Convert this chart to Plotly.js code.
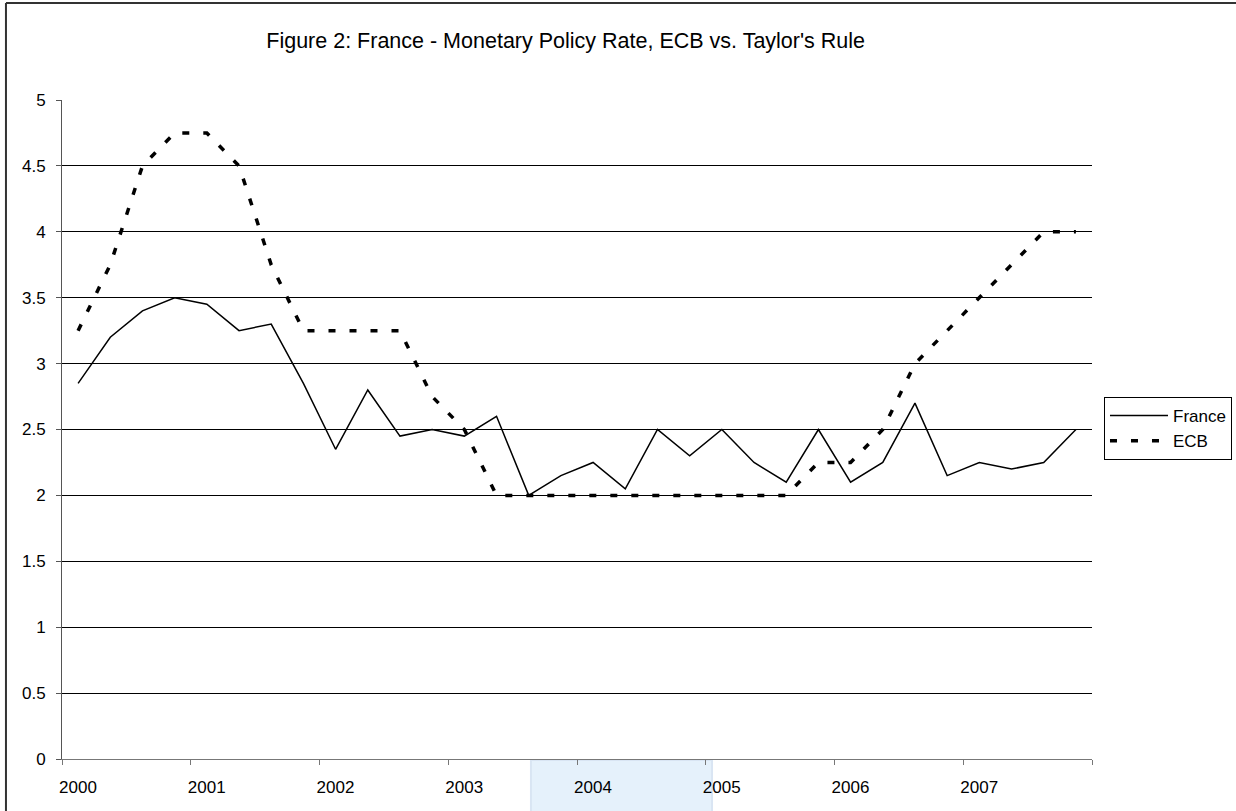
<!DOCTYPE html>
<html>
<head>
<meta charset="utf-8">
<script src="https://cdn.plot.ly/plotly-3.0.1.min.js"></script>
<style>
  html, body { margin: 0; padding: 0; background: #fff; }
  #chart { width: 1236px; height: 811px; }
</style>
</head>
<body>
<div id="chart"></div>
<script>
// quarterly values, 2000Q1 .. 2007Q4
const years = ['2000', '2001', '2002', '2003', '2004', '2005', '2006', '2007'];
const perYear = 4;

const france = [2.85, 3.2, 3.4, 3.5, 3.45, 3.25, 3.3, 2.85, 2.35, 2.8,
                2.45, 2.5, 2.45, 2.6, 2.0, 2.15, 2.25, 2.05, 2.5, 2.3,
                2.5, 2.25, 2.1, 2.5, 2.1, 2.25, 2.7, 2.15, 2.25, 2.2,
                2.25, 2.5];

const ecb = [3.25, 3.75, 4.5, 4.75, 4.75, 4.5, 3.75, 3.25, 3.25, 3.25,
             3.25, 2.75, 2.5, 2.0, 2.0, 2.0, 2.0, 2.0, 2.0, 2.0,
             2.0, 2.0, 2.0, 2.25, 2.25, 2.5, 3.0, 3.25, 3.5, 3.75,
             4.0, 4.0];

const yTicks = [0, 0.5, 1, 1.5, 2, 2.5, 3, 3.5, 4, 4.5, 5];

let idx = france.map((v, i) => i);

// ticks sit between the years, labels on the first quarter of each year
let tickPos = [];
let tickText = [];
for (let k = 0; k <= years.length; k++) {
    tickPos.push(k * perYear - 0.5);
    tickText.push(k < years.length ? years[k] : '');
}

const font = '"Liberation Sans", Arial, sans-serif';

let traces = [
    {
        name: 'France',
        x: idx,
        y: france,
        mode: 'lines',
        type: 'scatter',
        line: {color: '#000', width: 1.5}
    },
    {
        name: 'ECB',
        x: idx,
        y: ecb,
        mode: 'lines',
        type: 'scatter',
        line: {color: '#000', width: 3.5, dash: '7px,14px'}
    }
];

let layout = {
    width: 1236,
    height: 811,
    margin: {l: 62, r: 144, t: 100, b: 52},
    paper_bgcolor: '#fff',
    plot_bgcolor: '#fff',
    font: {family: font, size: 17, color: '#000'},
    title: {
        text: "Figure 2: France - Monetary Policy Rate, ECB vs. Taylor's Rule",
        font: {family: font, size: 21.5, color: '#000'},
        x: 0.489,
        xref: 'paper',
        xanchor: 'center',
        y: 0.9507,
        yref: 'container',
        yanchor: 'middle'
    },
    xaxis: {
        range: [-0.5, france.length - 0.5],
        tickmode: 'array',
        tickvals: tickPos,
        ticktext: tickText,
        ticks: 'outside',
        ticklen: 5,
        tickcolor: '#777',
        ticklabelshift: 16,
        ticklabelstandoff: 8,
        showline: true,
        linecolor: '#777',
        linewidth: 1,
        showgrid: false,
        zeroline: false,
        fixedrange: true
    },
    yaxis: {
        range: [0, 5],
        tickmode: 'array',
        tickvals: yTicks,
        ticktext: yTicks.map(String),
        ticks: 'outside',
        ticklen: 5,
        tickcolor: '#555',
        ticklabelstandoff: 7,
        showline: true,
        linecolor: '#555',
        linewidth: 1,
        showgrid: false,
        zeroline: false,
        minor: {
            tickmode: 'array',
            tickvals: yTicks.slice(1, -1),
            showgrid: true,
            gridcolor: '#000',
            gridwidth: 1,
            ticks: ''
        },
        fixedrange: true
    },
    legend: {
        xref: 'container',
        yref: 'container',
        x: 0.8932,
        xanchor: 'left',
        y: 0.5105,
        yanchor: 'top',
        bgcolor: '#fff',
        bordercolor: '#000',
        borderwidth: 1,
        itemwidth: 58,
        font: {family: font, size: 17, color: '#000'},
        tracegroupgap: 0
    },
    showlegend: true,
    shapes: [
        // frame of the chart window (left and top edges only)
        {
            type: 'line', xref: 'paper', yref: 'paper',
            x0: -0.0544, x1: -0.0544, y0: -0.3, y1: 1.1472,
            line: {color: '#333', width: 2}, layer: 'below'
        },
        {
            type: 'line', xref: 'paper', yref: 'paper',
            x0: -0.0544, x1: 1.3, y0: 1.1472, y1: 1.1472,
            line: {color: '#333', width: 2}, layer: 'below'
        },
        // pale blue highlight under the 2004 label
        {
            type: 'rect', xref: 'paper', yref: 'paper',
            x0: 0.4553, x1: 0.6311, y0: -0.09, y1: -0.0015,
            line: {color: '#d9e5f3', width: 2}, fillcolor: '#e5f1fb', layer: 'below'
        }
    ]
};

Plotly.newPlot('chart', traces, layout, {displayModeBar: false, staticPlot: true});
</script>
</body>
</html>
